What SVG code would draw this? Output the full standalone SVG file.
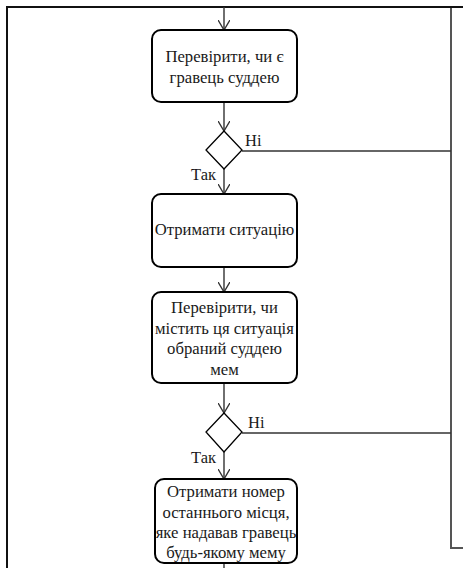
<svg xmlns="http://www.w3.org/2000/svg" width="463" height="568" viewBox="0 0 463 568">
  <style>
    .box { fill: #ffffff; stroke: #000000; stroke-width: 2; }
    .dec { fill: #ffffff; stroke: #000000; stroke-width: 1.3; }
    .lbl { font-family: "Liberation Serif", "Times New Roman", serif; font-size: 16.7px; fill: #1a1a1a; text-anchor: middle; }
    .edge { font-family: "Liberation Serif", "Times New Roman", serif; font-size: 16.5px; fill: #1a1a1a; }
    .flow { fill: none; stroke: #333333; stroke-width: 1.4; }
    .frame { fill: none; stroke: #111111; stroke-width: 2; }
    .side { fill: none; stroke: #555555; stroke-width: 2; }
  </style>
  <defs>
    <marker id="open" viewBox="0 0 10 12" refX="10" refY="6" markerWidth="10" markerHeight="12" markerUnits="userSpaceOnUse" orient="auto">
      <path d="M0,0 L10,6 L0,12" fill="none" stroke="#333333" stroke-width="1.4"/>
    </marker>
  </defs>
  <rect width="463" height="568" fill="#ffffff"/>

  <!-- swimlane frame -->
  <g id="frame">
    <path class="frame" d="M7,568 V7 H463"/>
    <path class="side" d="M451,8 V548 H463"/>
  </g>

  <g id="connectors">
    <line class="flow" x1="224" y1="7" x2="224" y2="30" marker-end="url(#open)"/>
    <line class="flow" x1="224" y1="102" x2="224" y2="131" marker-end="url(#open)"/>
    <line class="flow" x1="224" y1="169" x2="224" y2="194" marker-end="url(#open)"/>
    <line class="flow" x1="242" y1="151" x2="451" y2="151"/>
    <line class="flow" x1="224" y1="267" x2="224" y2="292" marker-end="url(#open)"/>
    <line class="flow" x1="224" y1="383" x2="224" y2="413" marker-end="url(#open)"/>
    <line class="flow" x1="224" y1="452" x2="224" y2="479" marker-end="url(#open)"/>
    <line class="flow" x1="242" y1="433" x2="451" y2="433"/>
    <line class="flow" x1="224" y1="563" x2="224" y2="568"/>
    <text class="edge" x="245" y="146">Ні</text>
    <text class="edge" x="191" y="180">Так</text>
    <text class="edge" x="248" y="428">Ні</text>
    <text class="edge" x="191" y="463">Так</text>
  </g>

  <g id="check-referee">
    <rect class="box" x="152" y="30" width="145" height="72" rx="9"/>
    <text class="lbl" x="224.5" y="62">Перевірити, чи є</text>
    <text class="lbl" x="224.5" y="83">гравець суддею</text>
  </g>

  <g id="decision-referee">
    <polygon class="dec" points="224,131 242,150 224,169 206,150"/>
  </g>

  <g id="get-situation">
    <rect class="box" x="152" y="194" width="145" height="73" rx="9"/>
    <text class="lbl" x="224.5" y="235">Отримати ситуацію</text>
  </g>

  <g id="check-situation">
    <rect class="box" x="152" y="292" width="145" height="91" rx="9"/>
    <text class="lbl" x="224.5" y="313">Перевірити, чи</text>
    <text class="lbl" x="224.5" y="334">містить ця ситуація</text>
    <text class="lbl" x="224.5" y="354">обраний суддею</text>
    <text class="lbl" x="224.5" y="375">мем</text>
  </g>

  <g id="decision-situation">
    <polygon class="dec" points="224,413 242,432 224,452 206,432"/>
  </g>

  <g id="get-last-place">
    <rect class="box" x="155" y="479" width="142" height="84" rx="9"/>
    <text class="lbl" x="226" y="497">Отримати номер</text>
    <text class="lbl" x="226" y="518">останнього місця,</text>
    <text class="lbl" x="226" y="538">яке надавав гравець</text>
    <text class="lbl" x="226" y="558">будь-якому мему</text>
  </g>
</svg>
